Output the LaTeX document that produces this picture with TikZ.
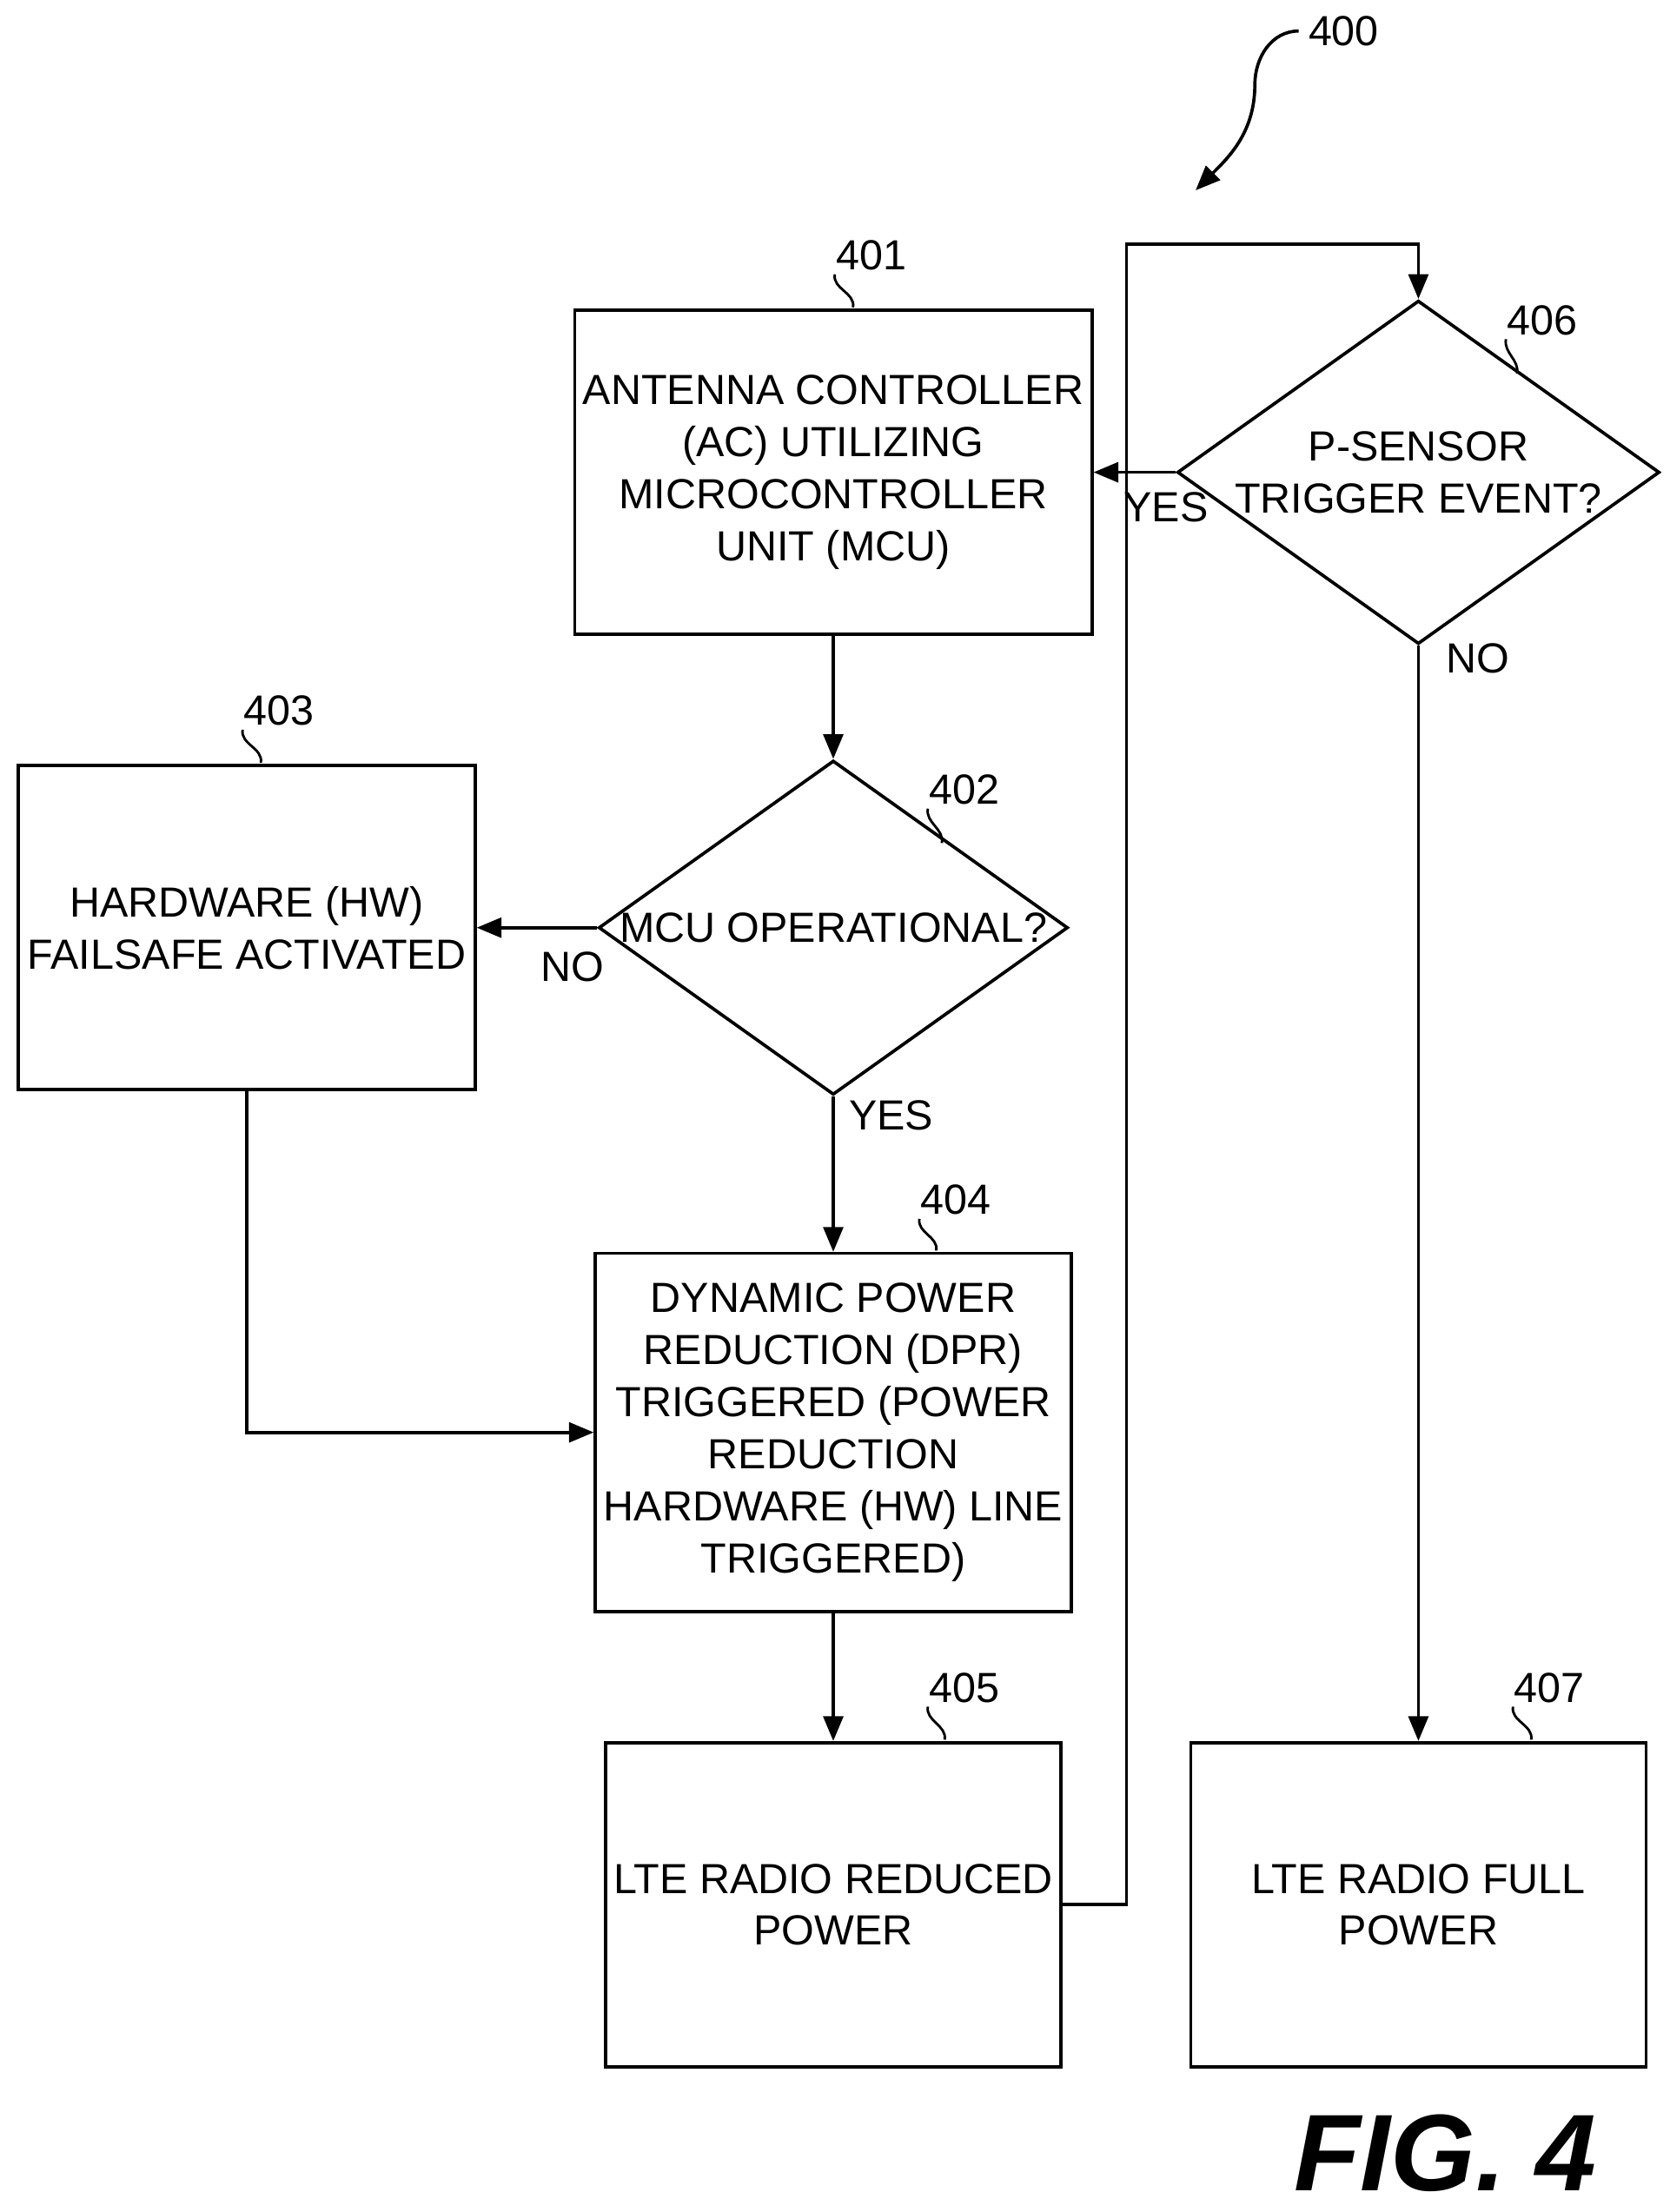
\documentclass[tikz,border=0pt]{standalone}
\usepackage{fontspec}
\setmainfont{Liberation Sans}
\usetikzlibrary{arrows.meta, positioning, shapes.geometric}

\begin{document}
\begin{tikzpicture}[x=0.02cm, y=-0.02cm, line width=1.3pt,
    box/.style={draw, rectangle, minimum width=6.46cm, minimum height=4.6cm, align=center, font=\fontsize{17}{21}\selectfont},
    dec/.style={draw, diamond, aspect=1.404, minimum width=6.46cm, minimum height=4.6cm, inner sep=0pt, align=center, font=\fontsize{17}{21}\selectfont},
    lbl/.style={font=\fontsize{17}{21}\selectfont},
    arr/.style={-{Triangle[length=10pt, width=8pt]}}]
  \useasboundingbox (0,0) rectangle (1184,1569);

  % Blocks
  \node[box] (ac) at (591,335) {ANTENNA CONTROLLER\\(AC) UTILIZING\\MICROCONTROLLER\\UNIT (MCU)};
  \node[dec] (mcu) at (591,658) {MCU OPERATIONAL?};
  \node[box, minimum width=6.48cm] (hw) at (175,658) {HARDWARE (HW)\\FAILSAFE ACTIVATED};
  \node[box, minimum height=5.08cm] (dpr) at (591,1016) {DYNAMIC POWER\\REDUCTION (DPR)\\TRIGGERED (POWER\\REDUCTION\\HARDWARE (HW) LINE\\TRIGGERED)};
  \node[box] (red) at (591,1351) {LTE RADIO REDUCED\\POWER};
  \node[dec] (ps) at (1006,335) {P-SENSOR\\TRIGGER EVENT?};
  \node[box] (full) at (1006,1351) {LTE RADIO FULL\\POWER};

  % Connectors
  \draw[arr] (ac) -- (mcu);
  \draw[arr] (mcu) -- (hw);
  \draw[arr] (mcu) -- (dpr);
  \draw[arr] (hw.south) |- (dpr.west);
  \draw[arr] (dpr) -- (red);
  \coordinate (up) at (799,173);
  \draw[arr] (red.east) -| (up) -| (ps.north);
  \draw[arr] (ps) -- (ac);
  \draw[arr] (ps) -- (full);

  % Branch labels
  \node[lbl] (y1) at (827,360) {YES};
  \node[lbl] (n1) at (1048,467) {NO};
  \node[lbl] (n2) at (406,686) {NO};
  \node[lbl] (y2) at (632,791) {YES};

  % Reference numerals
  \foreach \n/\x/\y/\tx/\ty in {401/618/181/605/218, 402/684/560/668/598, 403/198/504/185/541,
      404/678/851/664/887, 405/684/1197/670/1234, 406/1094/227/1076/265, 407/1099/1197/1086/1234}{
    \node[lbl] (r\n) at (\x,\y) {\n};
    \draw[line width=1pt] (r\n.south west) ++(6,-4) to[out=-100,in=80] (\tx,\ty);
  }
  \node[lbl] (r400) at (953,22) {400};
  \draw[arr] (r400.west) to[out=180,in=90] (890,60) to[out=-90,in=45] (848,135);

  \node[font=\fontsize{44}{50}\selectfont\bfseries\itshape\rmfamily] (fig) at (1025,1527) {FIG. 4};
\end{tikzpicture}
\end{document}
